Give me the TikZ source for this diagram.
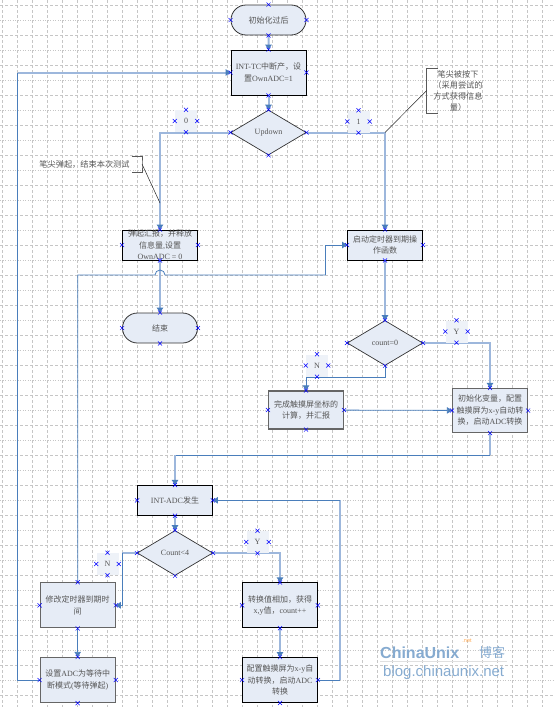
\documentclass[tikz,border=0pt]{standalone}
\usepackage{fontspec}
\setmainfont{Liberation Serif}
\newfontfamily\cjk{Noto Sans CJK SC}
\newfontfamily\wmfont{Liberation Sans}
\newcommand{\zh}[1]{{\cjk #1}}
\usetikzlibrary{arrows.meta,shapes.geometric,shapes.misc}
\definecolor{boxfill}{HTML}{E6ECF6}
\definecolor{labfill}{HTML}{EEF2F8}
\definecolor{linkdark}{HTML}{4A7EBB}
\definecolor{linkpale}{HTML}{9DB7DC}
\definecolor{gridgray}{HTML}{C6C6C6}
\definecolor{textgray}{HTML}{555555}
\definecolor{wmblue}{HTML}{86ABD0}
\tikzset{
  boxtext/.style={text=textgray,font=\fontsize{8}{11.5}\selectfont,align=center,inner sep=0pt},
  procbox/.style={boxtext,rectangle,draw=black,line width=0.8pt,fill=boxfill,minimum width=75pt},
  heavybox/.style={procbox,draw=black!60,line width=1.2pt},
  termbox/.style={boxtext,rounded rectangle,draw=black!80,line width=0.8pt,fill=boxfill,minimum width=75pt,minimum height=30pt},
  decbox/.style={boxtext,diamond,aspect=1.67,draw=black!80,line width=0.7pt,fill=boxfill,minimum width=75.5pt,minimum height=45pt},
  labbox/.style={boxtext,fill=labfill,minimum size=22pt},
  notetext/.style={boxtext,font=\fontsize{8.2}{11}\selectfont},
  thinlink/.style={draw=linkdark,line width=0.8pt},
  thicklink/.style={draw=linkpale,line width=2pt},
  linktip/.style={-{Triangle[length=5pt,width=6.5pt,color=linkdark]}},
  gridline/.style={draw=gridgray,line width=0.6pt,dash pattern=on 3pt off 2pt},
  griddot/.style={draw=gridgray,line width=0.6pt,dash pattern=on 1pt off 1.5pt},
  xmark/.style={cross out,draw=blue,line width=0.5pt,minimum size=3.6pt,inner sep=0pt},
  brace/.style={draw=black!65,line width=1pt},
  leader/.style={draw=black!85,line width=0.5pt}
}
\begin{document}
\begin{tikzpicture}[x=1pt,y=-1pt]
\useasboundingbox (0,0) rectangle (554,707);
% grid
\foreach \gx in {2.5,17.5,...,553} \draw[gridline] (\gx,0) -- (\gx,707);
\foreach \gy in {5,35,...,707} \draw[gridline] (0,\gy) -- (554,\gy);
\foreach \gy in {20,50,...,707} \draw[griddot] (0,\gy) -- (554,\gy);
% boxes
\node[termbox] (start) at (268.5,20) {\zh{初始化过后}};
\node[procbox,minimum height=45pt] (inttc) at (268.5,72.5) {INT-TC\zh{中断产，设}\\\zh{置}OwnADC=1};
\node[decbox] (updown) at (268.5,132.5) {Updown};
\node[procbox,minimum height=30pt] (tanqi) at (160,245) {\zh{弹起汇报，并释放}\\\zh{信息量},\zh{设置}\\OwnADC = 0};
\node[termbox] (over) at (160,328) {\zh{结束}};
\node[procbox,minimum height=30pt] (timer) at (385,245) {\zh{启动定时器到期操}\\\zh{作函数}};
\node[decbox] (countz) at (385,343) {count=0};
\node[heavybox,minimum height=38pt] (wancheng) at (306,410) {\zh{完成触摸屏坐标的}\\\zh{计算，并汇报}};
\node[heavybox,minimum height=44pt] (init) at (490,410.5) {\zh{初始化变量，配置}\\\zh{触摸屏为}x-y\zh{自动转}\\\zh{换，启动}ADC\zh{转换}};
\node[procbox,minimum height=30pt] (intadc) at (175,500.3) {INT-ADC\zh{发生}};
\node[decbox] (countf) at (175,553) {Count<4};
\node[heavybox,minimum height=45pt] (xiugai) at (77.7,605.3) {\zh{修改定时器到期时}\\\zh{间}};
\node[heavybox,minimum height=45pt] (shezhi) at (77.7,680) {\zh{设置}ADC\zh{为等待中}\\\zh{断模式}(\zh{等待弹起})};
\node[procbox,minimum height=45pt] (zhuanhuan) at (280,605.3) {\zh{转换值相加，获得}\\x,y\zh{值，}count++};
\node[procbox,minimum height=45pt] (peizhi) at (280,680) {\zh{配置触摸屏为}x-y\zh{自}\\\zh{动转换，启动}ADC\\\zh{转换}};
% bend points
\coordinate (leftturn) at (160,132.5);
\coordinate (rightturn) at (385,132.5);
\coordinate (hopleft) at (155,275);
\coordinate (hopright) at (165,275);
\coordinate (riseturn) at (325,275);
\coordinate (yturn) at (490,343);
\coordinate (nturn) at (385,377.3);
\coordinate (initdown) at (490,455);
\coordinate (adcturn) at (175,455);
\coordinate (nleft) at (122,553);
\coordinate (yleft) at (280,553);
\coordinate (peiright) at (340,680);
\coordinate (peitop) at (340,500.3);
\coordinate (backturn) at (17.5,72.5);
% links
\draw[thicklink,linktip] (start) -- (inttc);
\draw[thicklink,linktip] (inttc) -- (updown);
\draw[thicklink,linktip] (updown.west) -- (leftturn) -- (tanqi.north);
\draw[thicklink,linktip] (updown.east) -- (rightturn) -- (timer.north);
\draw[thicklink,linktip] (tanqi) -- (over);
\draw[thinlink] (xiugai.north) |- (hopleft) arc[start angle=180,end angle=360,radius=5] -- (riseturn);
\draw[thinlink,linktip] (riseturn) |- (timer.west);
\draw[thicklink,linktip] (timer) -- (countz);
\draw[thicklink,linktip] (countz.east) -- (yturn) -- (init.north);
\draw[thinlink,linktip] (countz.south) -- (nturn) -| (wancheng.north);
\draw[thinlink,linktip] (wancheng) -- (init);
\draw[thicklink] (init.south) -- (initdown);
\draw[thinlink] (initdown) -- (adcturn);
\draw[thicklink,linktip] (adcturn) -- (intadc.north);
\draw[thicklink,linktip] (intadc) -- (countf);
\draw[thicklink] (countf.west) -- (nleft);
\draw[thinlink,linktip] (nleft) |- (xiugai.east);
\draw[thicklink,linktip] (countf.east) -- (yleft) -- (zhuanhuan.north);
\draw[thinlink,linktip] (xiugai) -- (shezhi);
\draw[thicklink,linktip] (zhuanhuan) -- (peizhi);
\draw[thinlink] (peizhi.east) -- (peiright);
\draw[thicklink] (peiright) -- (peitop);
\draw[thinlink,linktip] (peitop) -- (intadc.east);
\draw[thinlink] (shezhi.west) -| (backturn);
\draw[thicklink,linktip] (backturn) -- (inttc.west);
% branch labels
\node[labbox] (labzero) at (186,121) {0};
\node[labbox] (labone) at (358.5,121.5) {1};
\node[labbox] (laby) at (456.5,331.5) {Y};
\node[labbox] (labn) at (317,365.5) {N};
\node[labbox] (labya) at (257.5,542) {Y};
\node[labbox] (labna) at (107.5,564) {N};
% notes
\node[notetext] (noteup) at (84.5,164) {\zh{笔尖弹起，结束本次测试}};
\coordinate (braceup) at (142,164);
\coordinate (leaderup) at (160,203);
\draw[brace] (131.7,156) -| (braceup) |- (131.7,172);
\draw[leader] (braceup) -- (leaderup);
\node[notetext] (notedown) at (458,90.5) {\zh{笔尖被按下}\\\zh{（采用尝试的}\\\zh{方式获得信息}\\\zh{量）}};
\coordinate (bracedown) at (426.7,90.5);
\draw[brace] (437.7,68) -| (bracedown) |- (437.7,113);
\draw[leader] (bracedown) -- (rightturn);
% connection marks
\foreach \n in {start,inttc,updown,tanqi,over,timer,countz,wancheng,init,intadc,countf,xiugai,shezhi,zhuanhuan,peizhi,labzero,labone,laby,labn,labya,labna}
  \foreach \a in {north,south,east,west}
    \node[xmark] (\n-\a) at (\n.\a) {};
% watermark
\node[inner sep=0pt,anchor=west,text=wmblue,font=\wmfont\bfseries\fontsize{16}{16}\selectfont] (wmmain) at (380,653) {ChinaUnix};
\node[inner sep=0pt,anchor=west,text=wmblue,font=\cjk\fontsize{13}{13}\selectfont] (wmzh) at (479,652) {博客};
\node[inner sep=0pt,text=orange!70,font=\wmfont\fontsize{5.5}{5.5}\selectfont] (wmnet) at (467,641) {.net};
\node[inner sep=0pt,anchor=west,text=wmblue,font=\wmfont\fontsize{15}{15}\selectfont] (wmblog) at (383,673) {blog.chinaunix.net};
\draw[draw=black!12,line width=0.5pt] (wmmain.south west) ++(0,2) -- ++(127,0);
\end{tikzpicture}
\end{document}
